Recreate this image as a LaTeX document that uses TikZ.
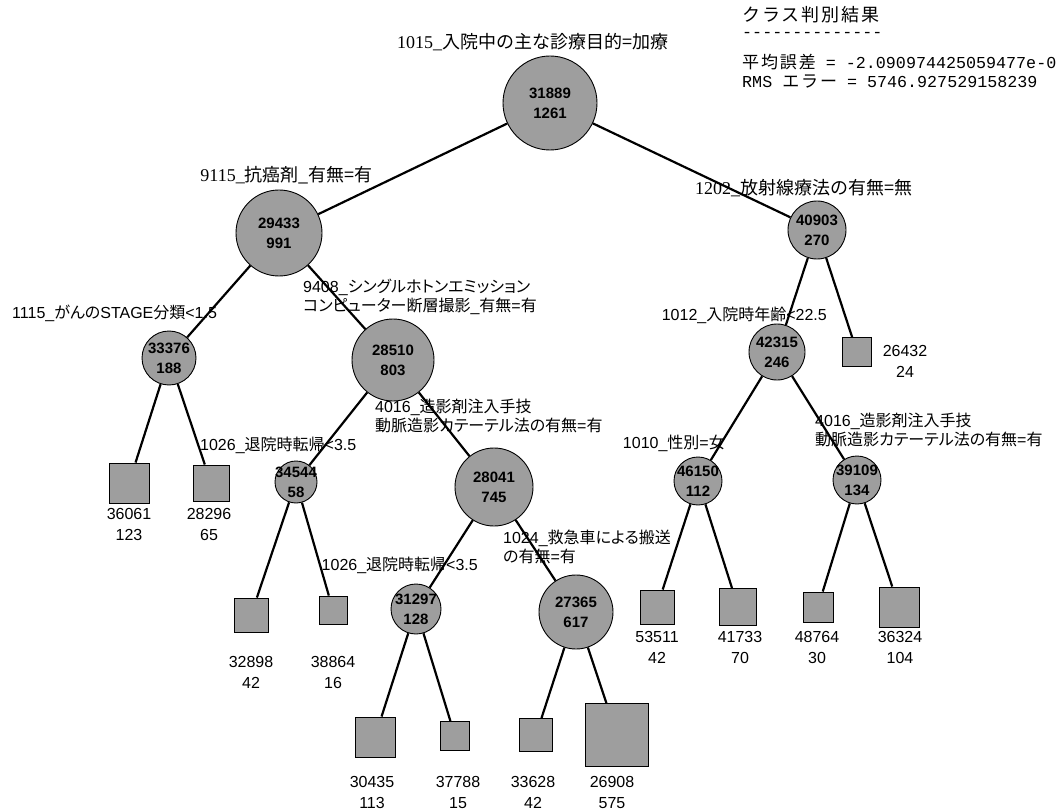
\documentclass[tikz,border=0pt]{standalone}
\usepackage{fontspec}
\setmainfont{Liberation Sans}
\newfontfamily\jp[RawFeature=+palt]{Noto Sans CJK JP}
\newfontfamily\jptop{Noto Sans CJK JP}
\newfontfamily\jplegend[LetterSpace=11]{Noto Sans CJK JP}
\newfontfamily\jpserif{Liberation Serif}
\newfontfamily\mono{Liberation Mono}
\newcommand\jpt[1]{{\jp #1}}
\definecolor{nodegray}{RGB}{158,158,158}
\begin{document}
\begin{tikzpicture}[x=1pt,y=-1pt,
  circ/.style={circle,draw=black,line width=0.9pt,fill=nodegray,inner sep=0pt,minimum size=#1},
  leaf/.style={rectangle,draw=black,line width=0.9pt,fill=nodegray,inner sep=0pt,minimum size=#1},
  ntext/.style={align=center,inner sep=0pt,font=\bfseries\fontsize{15}{20}\selectfont},
  lbl/.style={align=center,inner sep=0pt,font=\fontsize{16}{21}\selectfont},
  cond/.style={align=left,inner sep=0pt,font=\fontsize{16}{19.5}\selectfont},
  topcond/.style={inner sep=0pt,font=\jptop\fontsize{18}{20}\selectfont},
  legend/.style={anchor=west,inner sep=0pt},
  edge/.style={line width=2.2pt}]
\useasboundingbox (0,0) rectangle (1057,810);
\fill[white] (0,0) rectangle (1057,810);
\clip (0,0) rectangle (1057,810);

% inner nodes
\node[circ=94] (R) at (550,103) {};
\node[circ=86] (A) at (279,233) {};
\node[circ=58] (B) at (817,230) {};
\node[circ=54] (C) at (169,358) {};
\node[circ=82] (D) at (393,360) {};
\node[circ=56] (E) at (777,352) {};
\node[circ=42] (F) at (296,482) {};
\node[circ=78] (G) at (494,487) {};
\node[circ=48] (H) at (698,481) {};
\node[circ=48] (I) at (857,480) {};
\node[circ=50] (J) at (416,609) {};
\node[circ=74] (K) at (576,612) {};

\node[ntext] (tR) at (R) {31889\\1261};
\node[ntext] (tA) at (A) {29433\\991};
\node[ntext] (tB) at (B) {40903\\270};
\node[ntext] (tC) at (C) {33376\\188};
\node[ntext] (tD) at (D) {28510\\803};
\node[ntext] (tE) at (E) {42315\\246};
\node[ntext] (tF) at (F) {34544\\58};
\node[ntext] (tG) at (G) {28041\\745};
\node[ntext] (tH) at (H) {46150\\112};
\node[ntext] (tI) at (I) {39109\\134};
\node[ntext] (tJ) at (J) {31297\\128};
\node[ntext] (tK) at (K) {27365\\617};

% leaves
\node[leaf=29] (l1) at (857,352) {};
\node[leaf=40] (l2) at (129,483) {};
\node[leaf=36] (l3) at (211,483) {};
\node[leaf=34] (l4) at (251,615) {};
\node[leaf=28] (l5) at (333,610) {};
\node[leaf=34] (l6) at (657,607) {};
\node[leaf=37] (l7) at (738,607) {};
\node[leaf=30] (l8) at (818,607) {};
\node[leaf=40] (l9) at (899,607) {};
\node[leaf=40] (l10) at (375,737) {};
\node[leaf=29] (l11) at (455,736) {};
\node[leaf=33] (l12) at (536,735) {};
\node[leaf=63] (l13) at (617,735) {};

\node[lbl] (n1) at (905,361) {26432\\24};
\node[lbl] (n2) at (129,524) {36061\\123};
\node[lbl] (n3) at (209,524) {28296\\65};
\node[lbl] (n4) at (251,672) {32898\\42};
\node[lbl] (n5) at (333,672) {38864\\16};
\node[lbl] (n6) at (657,647) {53511\\42};
\node[lbl] (n7) at (740,647) {41733\\70};
\node[lbl] (n8) at (817,647) {48764\\30};
\node[lbl] (n9) at (900,647) {36324\\104};
\node[lbl] (n10) at (372,792) {30435\\113};
\node[lbl] (n11) at (458,792) {37788\\15};
\node[lbl] (n12) at (533,792) {33628\\42};
\node[lbl] (n13) at (612,792) {26908\\575};

% edges
\draw[edge] (R) -- (A);
\draw[edge] (R) -- (B);
\draw[edge] (A) -- (C);
\draw[edge] (A) -- (D);
\draw[edge] (B) -- (E);
\draw[edge] (B) -- (l1);
\draw[edge] (C) -- (l2);
\draw[edge] (C) -- (l3);
\draw[edge] (D) -- (F);
\draw[edge] (D) -- (G);
\draw[edge] (E) -- (H);
\draw[edge] (E) -- (I);
\draw[edge] (F) -- (l4);
\draw[edge] (F) -- (l5);
\draw[edge] (G) -- (J);
\draw[edge] (G) -- (K);
\draw[edge] (H) -- (l6);
\draw[edge] (H) -- (l7);
\draw[edge] (I) -- (l8);
\draw[edge] (I) -- (l9);
\draw[edge] (J) -- (l10);
\draw[edge] (J) -- (l11);
\draw[edge] (K) -- (l12);
\draw[edge] (K) -- (l13);

% split conditions
\node[topcond,anchor=west] (c1) at (397,42) {{\jpserif 1015\_}入院中の主な診療目的=加療};
\node[topcond,anchor=east] (c2) at (373,175) {{\jpserif 9115\_}抗癌剤\_有無=有};
\node[topcond,anchor=west] (c3) at (695,188) {{\jpserif 1202\_}放射線療法の有無=無};
\node[cond,anchor=west] (c4) at (12,313) {1115\_\jpt{がんの}STAGE\jpt{分類}<1.5};
\node[cond,anchor=west] (c5) at (303,297) {9408\_\jpt{シングルホトンエミッション}\\\jpt{コンピューター断層撮影}\_\jpt{有無}=\jpt{有}};
\node[cond,anchor=east] (c6) at (827,315) {1012\_\jpt{入院時年齢}<22.5};
\node[cond,anchor=west] (c7) at (375,416) {4016\_\jpt{造影剤注入手技}\\\jpt{動脈造影カテーテル法の有無}=\jpt{有}};
\node[cond,anchor=west] (c8) at (200,445) {1026\_\jpt{退院時転帰}<3.5};
\node[cond,anchor=east] (c9) at (725,443) {1010\_\jpt{性別}=\jpt{女}};
\node[cond,anchor=west] (c10) at (815,430) {4016\_\jpt{造影剤注入手技}\\\jpt{動脈造影カテーテル法の有無}=\jpt{有}};
\node[cond,anchor=west] (c11) at (503,547) {1024\_\jpt{救急車による搬送}\\\jpt{の有無}=\jpt{有}};
\node[cond,anchor=east] (c12) at (478,565) {1026\_\jpt{退院時転帰}<3.5};

% legend
\node[legend,font=\jplegend\fontsize{18}{20}\selectfont] (g1) at (742,15) {クラス判別結果};
\node[legend,font=\mono\fontsize{16.7}{20}\selectfont] (g2) at (742,35) {-{}-{}-{}-{}-{}-{}-{}-{}-{}-{}-{}-{}-{}-};
\node[legend] (g3) at (742,62) {{\jplegend\fontsize{17}{18}\selectfont 平均誤差}{\mono\fontsize{16.7}{20}\selectfont\ = -2.090974425059477e-0}};
\node[legend] (g4) at (742,82) {{\mono\fontsize{16.7}{20}\selectfont RMS }{\jplegend\fontsize{17}{18}\selectfont エラー}{\mono\fontsize{16.7}{20}\selectfont\ = 5746.927529158239}};
\end{tikzpicture}
\end{document}
